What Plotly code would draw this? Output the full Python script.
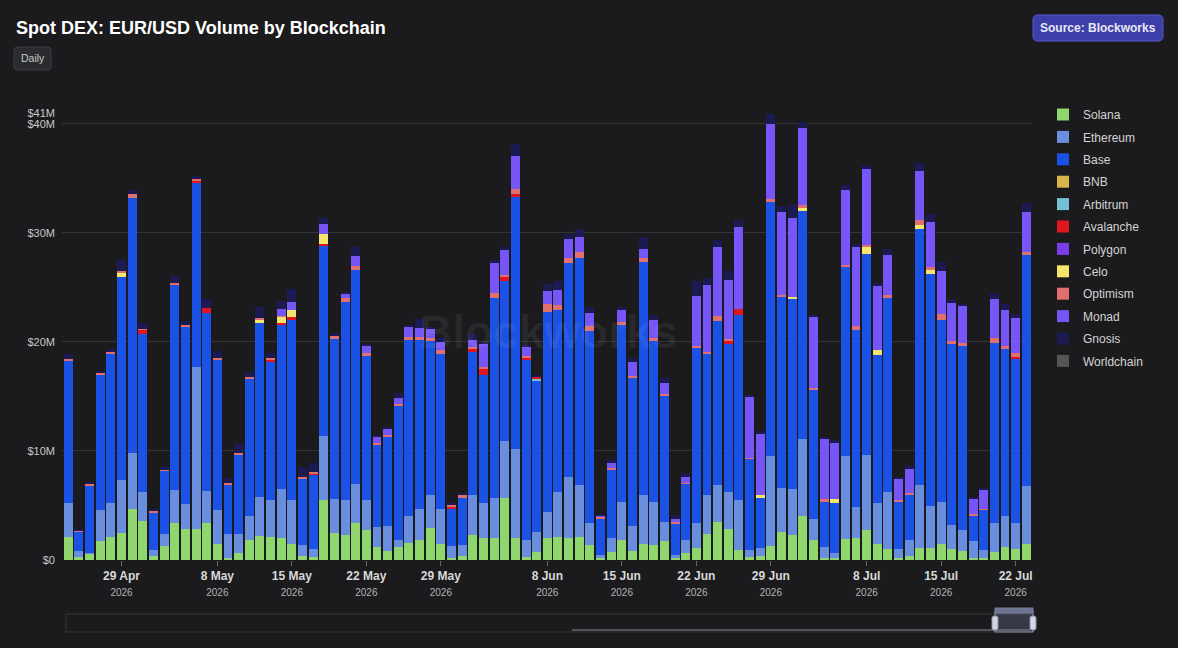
import plotly.graph_objects as go
import pandas as pd

# ---------------- data (values in $M) ----------------
dates = pd.date_range("2026-04-24", periods=91, freq="D")

solana = [2.14, 0.3, 0.55, 1.7, 2.15, 2.45, 4.65, 3.6, 0.37, 1.3,
          3.36, 2.84, 2.84, 3.4, 1.5, 0.2, 0.6, 1.83, 2.2, 2.1,
          2.05, 1.5, 0.4, 0.3, 5.5, 2.5, 2.3, 3.36, 2.75, 1.16,
          0.86, 1.2, 1.6, 1.83, 2.9, 1.5, 0.15, 0.4, 2.3, 2.0,
          2.05, 5.66, 2.05, 0.3, 0.75, 2.0, 2.15, 2.0, 2.08, 1.4,
          0.2, 0.7, 1.83, 0.83, 1.44, 1.4, 1.7, 0.2, 0.6, 1.13,
          2.35, 3.5, 2.84, 0.9, 0.3, 0.37, 1.3, 2.54, 2.3, 4.0,
          1.83, 0.2, 0.2, 1.93, 2.05, 2.75, 1.5, 1.0, 0.15, 0.37,
          1.13, 1.13, 1.44, 1.0, 0.83, 0.2, 0.2, 0.75, 1.2, 1.0,
          1.47]
ethereum = [3.06, 0.5, 0.1, 2.9, 3.05, 4.85, 5.2, 2.67, 0.55, 1.1,
            3.05, 2.3, 14.9, 2.9, 3.1, 2.15, 1.75, 2.2, 3.6, 3.4,
            4.45, 4.0, 1.0, 0.7, 5.9, 3.06, 3.2, 3.64, 2.75, 1.84,
            2.24, 0.6, 2.4, 2.87, 3.06, 3.2, 1.15, 1.0, 3.7, 3.2,
            3.6, 5.3, 8.15, 1.5, 1.85, 2.43, 4.05, 5.65, 4.82, 1.96,
            0.3, 1.3, 3.52, 2.27, 4.52, 3.9, 1.8, 0.3, 1.23, 2.23,
            3.65, 3.4, 3.36, 4.6, 0.6, 0.76, 8.27, 4.1, 4.2, 7.1,
            1.97, 1.0, 0.4, 7.57, 2.78, 6.88, 3.7, 5.27, 0.85, 1.46,
            5.77, 3.82, 3.91, 2.2, 1.92, 1.5, 0.7, 2.65, 2.8, 2.4,
            5.33]
base = [13.06, 1.8, 6.2, 12.4, 13.7, 18.7, 23.35, 14.5, 3.45, 5.85,
        18.8, 16.3, 16.8, 16.4, 13.7, 4.55, 7.35, 12.6, 15.9, 12.7,
        15.1, 16.5, 6.1, 6.8, 17.4, 14.7, 18.2, 19.6, 13.3, 7.55,
        8.2, 12.3, 16.2, 15.5, 14.14, 14.2, 3.44, 4.26, 13.05, 11.8,
        18.4, 14.65, 23.1, 16.55, 13.9, 18.35, 16.7, 19.55, 20.8, 17.64,
        3.3, 6.26, 16.2, 13.6, 21.4, 14.8, 11.5, 2.8, 5.2, 16.1,
        12.9, 15.0, 13.6, 17.0, 8.37, 4.57, 23.3, 17.5, 17.4, 21.0,
        11.8, 4.2, 4.6, 17.4, 16.3, 18.4, 13.6, 17.8, 4.3, 4.13,
        23.5, 21.25, 16.65, 16.6, 16.9, 2.37, 3.7, 16.5, 15.35, 15.1,
        21.2]
bnb = [0.0] * 91
arbitrum = [0, 0, 0, 0, 0, 0, 0, 0, 0, 0,
            0, 0, 0, 0, 0, 0, 0, 0, 0, 0,
            0, 0, 0, 0, 0, 0, 0, 0, 0, 0,
            0, 0, 0, 0, 0, 0, 0, 0, 0, 0,
            0, 0, 0, 0, 0.15, 0, 0, 0, 0, 0,
            0, 0, 0, 0, 0, 0, 0, 0, 0, 0,
            0, 0, 0, 0, 0, 0, 0, 0, 0, 0,
            0, 0, 0, 0, 0, 0, 0, 0, 0, 0,
            0, 0, 0, 0, 0, 0, 0, 0, 0, 0,
            0]
avalanche = [0, 0, 0, 0, 0, 0, 0, 0.35, 0, 0,
             0, 0, 0.3, 0.45, 0, 0, 0, 0, 0, 0.2,
             0.1, 0.3, 0, 0.15, 0.2, 0, 0, 0, 0, 0,
             0, 0, 0, 0, 0, 0, 0.15, 0, 0.35, 0.55,
             0, 0.35, 0.3, 0.2, 0.15, 0, 0, 0, 0, 0,
             0, 0, 0, 0, 0, 0, 0, 0, 0, 0,
             0, 0, 0.25, 0.5, 0, 0, 0, 0, 0, 0,
             0, 0, 0, 0, 0, 0, 0, 0, 0, 0,
             0, 0, 0, 0, 0, 0, 0, 0, 0, 0.15,
             0]
polygon = [0.0] * 91
celo = [0, 0, 0, 0, 0, 0.4, 0, 0, 0, 0,
        0, 0, 0, 0, 0, 0, 0, 0, 0.3, 0,
        0.6, 0.6, 0, 0, 0.9, 0, 0, 0, 0, 0,
        0, 0, 0, 0, 0, 0, 0, 0, 0, 0,
        0, 0, 0, 0, 0, 0, 0, 0, 0, 0,
        0, 0, 0, 0, 0, 0, 0, 0, 0, 0,
        0, 0, 0, 0, 0, 0.25, 0, 0, 0.2, 0.15,
        0, 0, 0.4, 0, 0, 0.7, 0.45, 0, 0, 0,
        0.35, 0.4, 0, 0, 0, 0, 0, 0, 0, 0,
        0]
optimism = [0.2, 0.1, 0.15, 0.15, 0.15, 0.1, 0.35, 0.1, 0.1, 0.05,
            0.2, 0.15, 0.15, 0, 0.2, 0.15, 0.15, 0.15, 0.2, 0.1,
            0.1, 0, 0.15, 0.15, 0, 0.3, 0.3, 0.4, 0.15, 0.15,
            0.15, 0.2, 0.3, 0.3, 0.3, 0.4, 0.2, 0.35, 0.15, 0.15,
            0.4, 0.15, 0.4, 0.15, 0, 0.7, 0.45, 0.5, 0.55, 0.45,
            0.15, 0.15, 0.3, 0.2, 0.3, 0.25, 0.2, 0.2, 0.05, 0.2,
            0.2, 0.45, 0.2, 0, 0.12, 0, 0.25, 0.2, 0, 0.3,
            0.2, 0.15, 0, 0.2, 0.3, 0.15, 0, 0.25, 0.2, 0.2,
            0.4, 0.3, 0.6, 0.25, 0.3, 0.12, 0.08, 0.45, 0.3, 0.35,
            0.25]
monad = [0, 0, 0, 0, 0, 0, 0, 0, 0, 0,
         0, 0, 0, 0, 0, 0, 0, 0, 0, 0,
         0.6, 0.75, 0, 0, 0.9, 0, 0.45, 0.9, 0.7, 0.6,
         0.6, 0.55, 0.95, 0.75, 0.8, 0.7, 0, 0, 0.6, 2.15,
         2.75, 2.3, 3.1, 0.9, 0, 1.2, 1.45, 1.7, 1.4, 1.25,
         0.15, 0.45, 1.07, 1.3, 0.85, 1.7, 1.0, 0.25, 0.5, 4.6,
         6.1, 6.4, 5.4, 7.5, 5.6, 5.6, 6.9, 7.6, 7.25, 7.1,
         6.5, 5.55, 5.1, 6.8, 7.3, 7.0, 5.9, 3.7, 1.9, 2.2,
         4.5, 4.1, 3.9, 3.5, 3.4, 1.4, 1.75, 3.6, 3.3, 3.2,
         3.7]
gnosis = [0.4, 0.1, 0.2, 0.2, 0.3, 1.0, 0.4, 0.5, 0.2, 0.2,
          0.6, 0.3, 0.2, 0.8, 0.7, 0.5, 0.8, 0.5, 1.0, 0.5,
          0.8, 1.2, 0.9, 0.8, 0.6, 0.3, 0.15, 0.8, 0.2, 0.15,
          0.1, 0.45, 0.1, 0.85, 0.15, 0.35, 0.15, 0.1, 0.6, 0.15,
          0.3, 0.3, 1.1, 0.15, 0.1, 0.6, 0.8, 0.5, 0.75, 0.5,
          0.1, 0.3, 0.3, 0.3, 1.1, 0.45, 0.45, 0.35, 0.4, 1.3,
          0.65, 0.6, 0.9, 0.65, 0.15, 0.25, 0.9, 0.55, 1.3, 0.5,
          0.2, 0.2, 0.3, 0.5, 0.3, 0.35, 0.25, 0.5, 0.2, 0.3,
          0.75, 0.75, 0.85, 0.4, 0.1, 0.2, 0.2, 0.5, 0.5, 0.4,
          0.8]
worldchain = [0.0] * 91

series_names = ["Solana", "Ethereum", "Base", "BNB", "Arbitrum", "Avalanche",
                "Polygon", "Celo", "Optimism", "Monad", "Gnosis", "Worldchain"]
series_values = [solana, ethereum, base, bnb, arbitrum, avalanche,
                 polygon, celo, optimism, monad, gnosis, worldchain]
series_colors = ["#8fd66f", "#6a8ede", "#1a52e6", "#d9b44a", "#74c0d4", "#e0161f",
                 "#7a3ee8", "#f3e66a", "#e07070", "#7656f7", "#1c1a52", "#555558"]

tick_dates = ["2026-04-29", "2026-05-08", "2026-05-15", "2026-05-22", "2026-05-29",
              "2026-06-08", "2026-06-15", "2026-06-22", "2026-06-29", "2026-07-08",
              "2026-07-15", "2026-07-22"]
tick_labels = ["29 Apr", "8 May", "15 May", "22 May", "29 May", "8 Jun",
               "15 Jun", "22 Jun", "29 Jun", "8 Jul", "15 Jul", "22 Jul"]
tick_year = "2026"

y_tickvals = [0, 10e6, 20e6, 30e6, 40e6, 41e6]
y_ticktext = ["$0", "$10M", "$20M", "$30M", "$40M", "$41M"]

# ---------------- figure ----------------
W, H = 1178, 648
L, R, T, B = 62, 1032, 113, 560
BG = "#1b1b1d"
FONT = "Liberation Sans, Arial, Helvetica, sans-serif"

fig = go.Figure()
for name, vals, col in zip(series_names, series_values, series_colors):
    fig.add_trace(go.Bar(
        x=dates, y=[v * 1e6 for v in vals], name=name,
        marker=dict(color=col, line=dict(width=0)),
        legendgroup=name,
        hovertemplate="%{x|%d %b %Y}<br>" + name + ": $%{y:,.0f}<extra></extra>",
    ))


def px(x):
    return (x - L) / (R - L)


def py(y):
    return (B - y) / (B - T)


def rrect(x0, y0, x1, y1, r):
    pts = [("M", x0 + r, y0), ("L", x1 - r, y0), ("Q", x1, y0, x1, y0 + r),
           ("L", x1, y1 - r), ("Q", x1, y1, x1 - r, y1), ("L", x0 + r, y1),
           ("Q", x0, y1, x0, y1 - r), ("L", x0, y0 + r), ("Q", x0, y0, x0 + r, y0)]
    s = ""
    for p in pts:
        cmd = p[0]
        coords = p[1:]
        parts = []
        for i in range(0, len(coords), 2):
            parts.append(f"{px(coords[i]):.5f},{py(coords[i + 1]):.5f}")
        s += cmd + " ".join(parts) + " "
    return s + "Z"


shapes = []
annotations = []

# Daily button
shapes.append(dict(type="path", xref="paper", yref="paper", path=rrect(14, 47, 51, 70, 4),
                   fillcolor="#2a2b2e", line=dict(color="#3e3f43", width=1), layer="above"))
annotations.append(dict(xref="paper", yref="paper", x=px(32.5), y=py(58.5), text="Daily",
                        showarrow=False, font=dict(size=10.5, color="#c9c9c9", family=FONT),
                        xanchor="center", yanchor="middle"))

# Source button
shapes.append(dict(type="path", xref="paper", yref="paper", path=rrect(1033, 15, 1163, 41, 5),
                   fillcolor="#3d3fa8", line=dict(color="#5659cf", width=1), layer="above"))
annotations.append(dict(xref="paper", yref="paper", x=px(1098), y=py(28),
                        text="<b>Source: Blockworks</b>", showarrow=False,
                        font=dict(size=12, color="#e8e8f5", family=FONT),
                        xanchor="center", yanchor="middle"))

# watermark
annotations.append(dict(xref="paper", yref="paper", x=px(548), y=py(332),
                        text="<b>Blockworks</b>", showarrow=False,
                        font=dict(size=46, color="rgba(255,255,255,0.06)", family=FONT),
                        xanchor="center", yanchor="middle"))

# navigator (decorative frame)
shapes.append(dict(type="rect", xref="paper", yref="paper",
                   x0=px(66), x1=px(1034), y0=py(614), y1=py(632),
                   line=dict(color="#38383b", width=1), fillcolor="rgba(0,0,0,0)"))
shapes.append(dict(type="line", xref="paper", yref="paper",
                   x0=px(572), x1=px(1030), y0=py(630), y1=py(630),
                   line=dict(color="#55565a", width=2)))
shapes.append(dict(type="rect", xref="paper", yref="paper",
                   x0=px(995), x1=px(1033), y0=py(611), y1=py(632),
                   line=dict(color="#8a90a8", width=1), fillcolor="rgba(110,116,145,0.35)"))
shapes.append(dict(type="rect", xref="paper", yref="paper",
                   x0=px(995), x1=px(1033), y0=py(608), y1=py(613),
                   line=dict(color="#7b8199", width=1), fillcolor="#6d7390"))
for hx in (995, 1033):
    shapes.append(dict(type="path", xref="paper", yref="paper",
                       path=rrect(hx - 3, 616, hx + 3, 630, 2),
                       fillcolor="#d4d7e2", line=dict(color="#8a90a8", width=1)))

fig.update_layout(
    width=W, height=H,
    paper_bgcolor=BG, plot_bgcolor=BG,
    margin=dict(l=L, r=W - R, t=T, b=H - B, pad=0),
    barmode="stack", bargap=0.16,
    font=dict(family=FONT, color="#d0d0d0"),
    title=dict(text="<b>Spot DEX: EUR/USD Volume by Blockchain</b>",
               x=16 / W, xref="container", xanchor="left",
               y=1 - 28 / H, yref="container", yanchor="middle",
               font=dict(size=18, color="#ffffff", family=FONT)),
    legend=dict(x=px(1043), y=py(100), xanchor="left", yanchor="top",
                xref="paper", yref="paper",
                traceorder="grouped", tracegroupgap=3.4,
                font=dict(size=12, color="#d4d4d4", family=FONT),
                bgcolor="rgba(0,0,0,0)", itemclick=False),
    xaxis=dict(type="date",
               range=["2026-04-23 09:45", "2026-07-23 12:50"],
               tickvals=tick_dates,
               ticktext=[f"<b>{t}</b><br><span style='font-size:10px;color:#b4b4b4'>{tick_year}</span>"
                         for t in tick_labels],
               tickfont=dict(size=12, color="#d8d8d8", family=FONT),
               ticks="outside", ticklen=5, tickcolor="#6a6a6a",
               showgrid=False, showline=False, zeroline=False),
    yaxis=dict(range=[0, 41e6], tickvals=y_tickvals, ticktext=y_ticktext,
               tickfont=dict(size=11, color="#c8c8c8", family=FONT),
               gridcolor="#343437", gridwidth=1, zeroline=False, showline=False,
               ticks="", ticklabelstandoff=6),
    shapes=shapes, annotations=annotations,
    hoverlabel=dict(bgcolor="#2a2b2e", font=dict(color="#ffffff")),
)

fig.write_html("out.html")
